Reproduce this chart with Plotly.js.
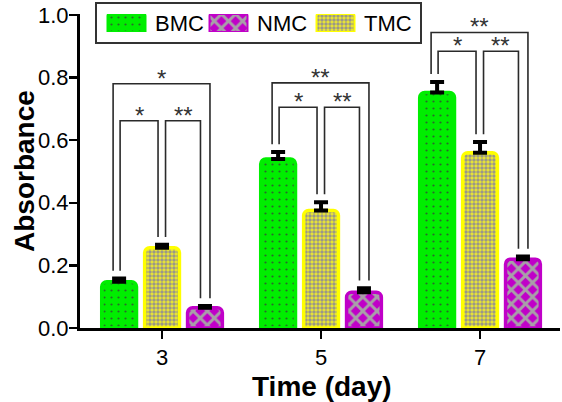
<!DOCTYPE html>
<html>
<head>
<meta charset="utf-8">
<script src="https://cdn.plot.ly/plotly-3.0.1.min.js"></script>
<style>html,body{margin:0;padding:0;background:#fff;}#chart{width:562px;height:402px;}</style>
</head>
<body>
<div id="chart"></div>
<script>
// ---- data ----
const days = ["3", "5", "7"];
const seriesNames = ["BMC", "TMC", "NMC"];           // bar order within each group
const legendOrder = ["BMC", "NMC", "TMC"];           // order in the legend box
const bmc = [0.148, 0.540, 0.752];
const bmcErr = [0.010, 0.022, 0.034];
const tmc = [0.256, 0.375, 0.560];
const tmcErr = [0.010, 0.027, 0.034];
const nmc = [0.065, 0.114, 0.220];
const nmcErr = [0.005, 0.013, 0.008];
// significance brackets: day index, left bar, right bar, bracket level, label
const bracketDay   = [0, 0, 0, 1, 1, 1, 2, 2, 2];
const bracketLeft  = [0, 0, 1, 0, 0, 1, 0, 0, 1];
const bracketRight = [2, 1, 2, 2, 1, 2, 2, 1, 2];
const bracketLevel = [0.780, 0.662, 0.662, 0.783, 0.705, 0.705, 0.944, 0.884, 0.884];
const bracketLabel = ["*", "*", "**", "**", "*", "**", "**", "*", "**"];

// ---- style ----
const FONT = "Liberation Sans, Arial, sans-serif";
const bargap = 0.19;
const nSeries = 3;
const slot = (1 - bargap) / nSeries;
const pxPerCat = 159;          // approx pixel width of one category
const vals = [bmc, tmc, nmc];
const errs = [bmcErr, tmcErr, nmcErr];

const styles = {
  BMC: {color: "#00ee00", pattern: {shape: ".", fgcolor: "#2a6a2a", bgcolor: "#00ee00", size: 7, solidity: 0.08}},
  TMC: {color: "#ffff00", pattern: {shape: ".", fgcolor: "#9a9888", bgcolor: "#eeea30", size: 4, solidity: 0.6}},
  NMC: {color: "#c000c8", pattern: {shape: "x", fgcolor: "#a8a0a8", bgcolor: "#c000c8", size: 10, solidity: 0.5}}
};

const traces = seriesNames.map((name, k) => ({
  type: "bar",
  name: name,
  x: days,
  y: vals[k],
  showlegend: false,
  marker: {
    color: styles[name].color,
    pattern: styles[name].pattern,
    line: {color: styles[name].color, width: 3.5},
    cornerradius: 5
  },
  error_y: {type: "data", symmetric: false, array: errs[k], arrayminus: [0, 0, 0],
            color: "#000", thickness: 4, width: 7}
}));

// geometry helpers (plot area x 80..560, y 328..14 px)
const TOP = 14, BOTTOM = 328;
const px2x = p => (p - 80) / 480;
const px2y = p => (BOTTOM - p) / (BOTTOM - TOP);

// legend swatches drawn as bars on a hidden pixel-scaled axis
const swatchX = [126.5, 228.5, 335.5];
const swatchW = 38;
legendOrder.forEach((n, i) => {
  traces.push({
    type: "bar", xaxis: "x2", yaxis: "y2", showlegend: false, hoverinfo: "skip",
    x: [swatchX[i]], y: [1], width: [swatchW], offset: -swatchW / 2,
    marker: {color: styles[n].color, line: {color: styles[n].color, width: 2},
             pattern: styles[n].pattern, cornerradius: 2}
  });
});

function barCenter(d, b) { return d + (b - (nSeries - 1) / 2) * slot; }
function topOf(d, b) { return vals[b][d] + errs[b][d] + 0.025; }

const shapes = [];
const annotations = [];
for (let i = 0; i < bracketDay.length; i++) {
  const d = bracketDay[i], l = bracketLeft[i], r = bracketRight[i];
  const outer = (r - l) === 2;
  let x0, x1;
  if (outer) { x0 = barCenter(d, l) - 6 / pxPerCat; x1 = barCenter(d, r) + 5 / pxPerCat; }
  else if (l === 0) { x0 = barCenter(d, l) + 1 / pxPerCat; x1 = barCenter(d, r) - 4 / pxPerCat; }
  else { x0 = barCenter(d, l) + 3.5 / pxPerCat; x1 = barCenter(d, r) - 4.5 / pxPerCat; }
  const lvl = bracketLevel[i];
  shapes.push({
    type: "path", xref: "x", yref: "y",
    path: `M ${x0},${topOf(d, l)} L ${x0},${lvl} L ${x1},${lvl} L ${x1},${topOf(d, r)}`,
    line: {color: "#2a2a2a", width: 1.6}
  });
  annotations.push({
    xref: "x", yref: "y", x: (x0 + x1) / 2, y: lvl, text: bracketLabel[i],
    showarrow: false, yanchor: "bottom", yshift: -10,
    font: {family: FONT, size: 24, color: "#333"}
  });
}

// legend box and labels
shapes.push({type: "rect", xref: "paper", yref: "paper",
  x0: px2x(96), x1: px2x(421), y0: px2y(43), y1: px2y(3),
  line: {color: "#333", width: 2}, fillcolor: "rgba(0,0,0,0)"});
const legendTextX = [153, 255, 362];
legendOrder.forEach((n, i) => {
  annotations.push({xref: "paper", yref: "paper", x: px2x(legendTextX[i]), y: px2y(23.5),
    xanchor: "left", yanchor: "middle", showarrow: false, text: n,
    font: {family: FONT, size: 22, color: "#000"}});
});
// axis titles
annotations.push({xref: "paper", yref: "paper", x: px2x(321.5), y: px2y(386),
  xanchor: "center", yanchor: "middle", showarrow: false, text: "<b>Time (day)</b>",
  font: {family: FONT, size: 28, color: "#000"}});
annotations.push({xref: "paper", yref: "paper", x: px2x(24), y: px2y(171),
  xanchor: "center", yanchor: "middle", showarrow: false, textangle: -90, text: "<b>Absorbance</b>",
  font: {family: FONT, size: 28, color: "#000"}});

const layout = {
  width: 562, height: 402,
  margin: {l: 80, r: 2, t: TOP, b: 402 - BOTTOM},
  paper_bgcolor: "#fff", plot_bgcolor: "#fff",
  barmode: "group", bargap: bargap, bargroupgap: 0.19,
  font: {family: FONT, color: "#000"},
  showlegend: false,
  xaxis: {
    type: "category", range: [-0.516, 2.503],
    showline: true, linecolor: "#000", linewidth: 3,
    ticks: "outside", ticklen: 8, tickwidth: 2.5, tickcolor: "#000",
    tickfont: {family: FONT, size: 22, color: "#000"},
    showgrid: false, zeroline: false
  },
  yaxis: {
    range: [0, 1.003], tickvals: [0, 0.2, 0.4, 0.6, 0.8, 1.0], tickformat: ".1f",
    ticklabeloverflow: "allow", ticklabelstandoff: -4,
    showline: true, linecolor: "#000", linewidth: 3,
    ticks: "outside", ticklen: 8, tickwidth: 2.5, tickcolor: "#000",
    tickfont: {family: FONT, size: 22, color: "#000"},
    showgrid: false, zeroline: false
  },
  xaxis2: {domain: [0, 1], range: [80, 560], visible: false, fixedrange: true, anchor: "y2"},
  yaxis2: {domain: [px2y(32), px2y(14)], range: [0, 1], visible: false, fixedrange: true, anchor: "x2"},
  shapes: shapes,
  annotations: annotations
};

Plotly.newPlot("chart", traces, layout, {displayModeBar: false, staticPlot: true});
</script>
</body>
</html>
